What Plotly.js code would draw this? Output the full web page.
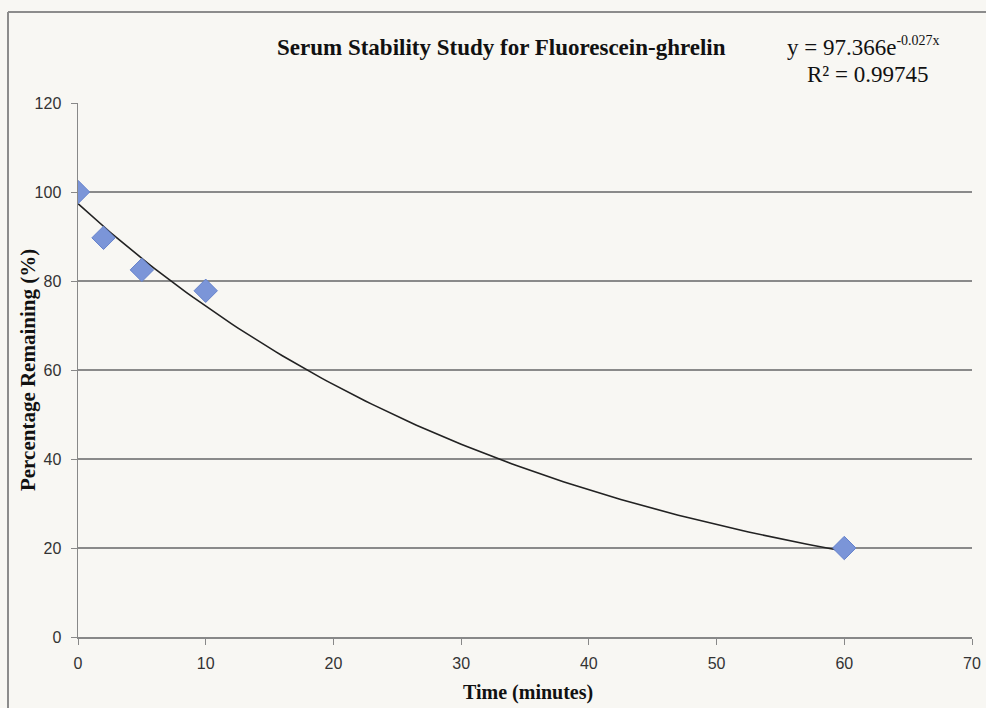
<!DOCTYPE html>
<html>
<head>
<meta charset="utf-8">
<script src="https://cdn.plot.ly/plotly-3.0.1.min.js"></script>
<style>html,body{margin:0;padding:0;background:#f8f7f3;}#chart{width:986px;height:708px;}</style>
</head>
<body>
<div id="chart"></div>
<script>
// Data
const timeMinutes = [0, 2, 5, 10, 60];
const percentRemaining = [100, 89.7, 82.5, 77.8, 20];
// Fitted exponential trendline coefficients printed on the chart
const fitA = 97.366;
const fitK = -0.027;
const fitR2 = 0.99745;
const xTickVals = [0, 10, 20, 30, 40, 50, 60, 70];
const yTickVals = [0, 20, 40, 60, 80, 100, 120];

const trendX = [];
const trendY = [];
for (let i = 0; i <= 120; i++) {
  const x = i * 0.5;
  trendX.push(x);
  trendY.push(fitA * Math.exp(fitK * x));
}

const tickFont = {family: '"Liberation Sans", Arial, sans-serif', size: 16, color: '#333'};
const serif = '"Liberation Serif", "Times New Roman", serif';

const data = [
  {x: trendX, y: trendY, type: 'scatter', mode: 'lines', line: {color: '#222', width: 1.6}, hoverinfo: 'skip'},
  {x: timeMinutes, y: percentRemaining, type: 'scatter', mode: 'markers',
   marker: {symbol: 'diamond', size: 18, color: '#7b95d8', line: {color: '#6683cc', width: 1}}}
];

const layout = {
  width: 986, height: 708,
  margin: {l: 78, r: 14, t: 103, b: 71},
  paper_bgcolor: '#f8f7f3', plot_bgcolor: '#f8f7f3',
  showlegend: false,
  xaxis: {range: [0, 70], tickvals: xTickVals, ticks: 'outside', ticklen: 6, tickcolor: '#888',
          ticklabelstandoff: 5,
          showline: true, linecolor: '#888', linewidth: 1.5, showgrid: false, zeroline: false,
          tickfont: tickFont, fixedrange: true},
  yaxis: {range: [0, 120], tickvals: yTickVals, ticks: 'outside', ticklen: 6, tickcolor: '#888',
          ticklabelstandoff: 6,
          showline: true, linecolor: '#888', linewidth: 1.5, showgrid: true, gridcolor: '#8a8a8a', gridwidth: 1.3,
          zeroline: false, tickfont: tickFont, fixedrange: true},
  annotations: [
    {text: '<b>Serum Stability Study for Fluorescein-ghrelin</b>', xref: 'paper', yref: 'paper', x: 0.4732, y: 1.103,
     xanchor: 'center', yanchor: 'middle', showarrow: false, font: {family: serif, size: 23, color: '#111'}},
    {text: 'y = ' + fitA + 'e<sup><span style="font-size:14px">' + fitK.toFixed(3) + 'x</span></sup>', xref: 'paper', yref: 'paper', x: 0.7908, y: 1.1067,
     xanchor: 'left', yanchor: 'middle', showarrow: false, font: {family: serif, size: 23, color: '#111'}},
    {text: 'R² = ' + fitR2, xref: 'paper', yref: 'paper', x: 0.8132, y: 1.0543,
     xanchor: 'left', yanchor: 'middle', showarrow: false, font: {family: serif, size: 23, color: '#111'}},
    {text: '<b>Percentage Remaining (%)</b>', xref: 'paper', yref: 'paper', x: -0.0559, y: 0.5, textangle: -90,
     xanchor: 'center', yanchor: 'middle', showarrow: false, font: {family: serif, size: 21, color: '#111'}},
    {text: '<b>Time (minutes)</b>', xref: 'paper', yref: 'paper', x: 0.5034, y: -0.103,
     xanchor: 'center', yanchor: 'middle', showarrow: false, font: {family: serif, size: 20, color: '#111'}}
  ],
  shapes: [
    {type: 'line', xref: 'paper', yref: 'paper', x0: -0.0783, x1: 1.2, y0: 1.1704, y1: 1.1704, line: {color: '#8c8c8c', width: 2}},
    {type: 'line', xref: 'paper', yref: 'paper', x0: -0.0783, x1: -0.0783, y0: 1.1704, y1: -0.2, line: {color: '#8c8c8c', width: 2}}
  ]
};

Plotly.newPlot('chart', data, layout, {displayModeBar: false, staticPlot: true});
</script>
</body>
</html>
